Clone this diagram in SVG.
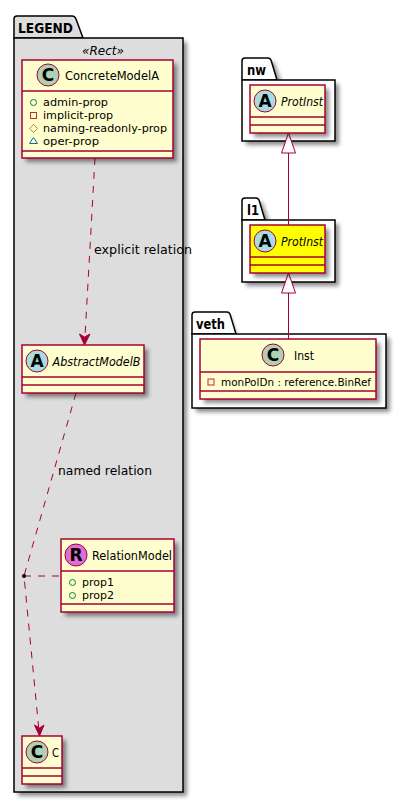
<svg xmlns="http://www.w3.org/2000/svg" width="406" height="803" viewBox="0 0 406 803">
<style>
text{font-family:"DejaVu Sans",sans-serif;fill:#000}
.pk{fill:#fff;stroke:#000;stroke-width:1.5}
.pk2{fill:#ddd;stroke:#000;stroke-width:1.5}
.pt{font-size:14px;font-weight:bold}
.box{fill:#fefece;stroke:#a80036;stroke-width:1.5}
.yl{fill:#ff0;stroke:#a80036;stroke-width:1.5}
.ln{stroke:#a80036;stroke-width:1.5;fill:none}
.cn{stroke:#a80036;stroke-width:1;fill:none}
.tri{stroke:#a80036;stroke-width:1;fill:#fff}
.ah{stroke:#a80036;stroke-width:1;fill:#a80036}
.ds{stroke-dasharray:7,7}
.n{font-size:13px}
.i{font-size:13px;font-style:italic}
.m{font-size:11px}
.l{font-size:13px}
.sp{stroke:#a80036;stroke-width:1}
.sh{fill:#000;opacity:.45;filter:url(#b)}
.g{font-size:17px;font-weight:bold;text-anchor:middle}
</style>
<defs><filter id="b" x="-20%" y="-20%" width="140%" height="140%"><feGaussianBlur stdDeviation="2"/></filter></defs>

<g id="pkg-legend">
<path class="sh" d="M18 20H74L81 42H187V796H18Z"/>
<path class="pk2" d="M14 38V19Q14 16 17 16H72Q75 16 76 19L83 38Z"/>
<rect class="pk2" x="14" y="38" width="169" height="754"/>
<text class="pt" x="18" y="33" textLength="55" lengthAdjust="spacingAndGlyphs">LEGEND</text>
<text x="82" y="55" font-size="13" font-style="italic" textLength="42" lengthAdjust="spacingAndGlyphs">«Rect»</text>
</g>

<g id="pkg-nw">
<path class="sh" d="M246 62H274L282 84H339V145H246Z"/>
<path d="M242 80V61Q242 58 245 58H268Q270 58 271 60L277 80Z" class="pk"/>
<rect class="pk" x="242" y="80" width="93" height="61"/>
<text class="pt" x="247" y="75" textLength="19" lengthAdjust="spacingAndGlyphs">nw</text>
</g>
<g id="pkg-l1">
<path class="sh" d="M246 202H262L270 224H339V286H246Z"/>
<path d="M242 220V201Q242 198 245 198H256Q258 198 259 200L265 220Z" class="pk"/>
<rect class="pk" x="242" y="220" width="93" height="62"/>
<text class="pt" x="247" y="215" textLength="12" lengthAdjust="spacingAndGlyphs">l1</text>
</g>
<g id="pkg-veth">
<path class="sh" d="M196 316H230L238 338H390V412H196Z"/>
<path d="M192 334V315Q192 312 195 312H227Q229 312 230 314L236 334Z" class="pk"/>
<rect class="pk" x="192" y="334" width="194" height="74"/>
<text class="pt" x="196" y="329" textLength="29" lengthAdjust="spacingAndGlyphs">veth</text>
</g>

<g id="connectors">
<path class="cn ds" d="M95 158L84.800 340"/>
<path class="ah" d="M84.500 345L79.500 334L84.500 337L90 334Z"/>
<text class="l" x="94" y="254" textLength="98" lengthAdjust="spacingAndGlyphs">explicit relation</text>
<path class="cn ds" d="M76 393L24 576L39 731"/>
<path class="ah" d="M39.500 736L34.500 725L39.500 728L44 725Z"/>
<text class="l" x="58" y="475" textLength="94" lengthAdjust="spacingAndGlyphs">named relation</text>
<path class="cn ds" d="M24 576H61"/>
<circle cx="24" cy="576" r="2" fill="#000"/>
<path class="cn" d="M288.500 153V225M288.500 293V339"/>
<path class="tri" d="M288.500 133L281.500 153H295.500Z"/>
<path class="tri" d="M288.500 273L281.500 293H295.500Z"/>
</g>

<g id="node-concretemodela">
<rect class="sh" x="26" y="64" width="151" height="98"/>
<rect class="box" x="22" y="60" width="151" height="98"/>
<path class="ln" d="M22 91H173M22 151H173"/>
<circle cx="48" cy="75" r="11" fill="#add1b2" class="sp"/>
<text class="g" x="48" y="81">C</text>
<text class="n" x="65" y="80" textLength="94" lengthAdjust="spacingAndGlyphs">ConcreteModelA</text>
<circle cx="33.500" cy="102.500" r="3" fill="none" stroke="#038048"/>
<rect x="30.500" y="112.500" width="6" height="6" fill="none" stroke="#c82930"/>
<path d="M33.500 124.500l4 4-4 4-4-4Z" fill="none" stroke="#b38d22"/>
<path d="M33.500 137.500l4 6h-8Z" fill="none" stroke="#1963a0"/>
<text class="m" x="43" y="106" textLength="65" lengthAdjust="spacingAndGlyphs">admin-prop</text>
<text class="m" x="43" y="119" textLength="70" lengthAdjust="spacingAndGlyphs">implicit-prop</text>
<text class="m" x="43" y="132" textLength="124" lengthAdjust="spacingAndGlyphs">naming-readonly-prop</text>
<text class="m" x="43" y="145" textLength="56" lengthAdjust="spacingAndGlyphs">oper-prop</text>
</g>

<g id="node-abstractmodelb">
<rect class="sh" x="26" y="349" width="122" height="48"/>
<rect class="box" x="22" y="345" width="122" height="48"/>
<path class="ln" d="M22 377H144M22 385H144"/>
<circle cx="37" cy="361" r="11" fill="#a9dcdf" class="sp"/>
<text class="g" x="37" y="367">A</text>
<text class="i" x="52.500" y="366" textLength="88" lengthAdjust="spacingAndGlyphs">AbstractModelB</text>
</g>

<g id="node-relationmodel">
<rect class="sh" x="65" y="543" width="113" height="73"/>
<rect class="box" x="61" y="539" width="113" height="73"/>
<path class="ln" d="M61 571H174M61 604H174"/>
<circle cx="76" cy="555" r="11" fill="#da70d6" class="sp"/>
<text class="g" x="76" y="561">R</text>
<text class="n" x="92" y="560" textLength="80" lengthAdjust="spacingAndGlyphs">RelationModel</text>
<circle cx="72.500" cy="582.500" r="3" fill="none" stroke="#038048"/>
<circle cx="72.500" cy="595.500" r="3" fill="none" stroke="#038048"/>
<text class="m" x="82" y="586" textLength="32" lengthAdjust="spacingAndGlyphs">prop1</text>
<text class="m" x="82" y="599" textLength="32" lengthAdjust="spacingAndGlyphs">prop2</text>
</g>

<g id="node-c">
<rect class="sh" x="26" y="740" width="40" height="48"/>
<rect class="box" x="22" y="736" width="40" height="48"/>
<path class="ln" d="M22 768H62M22 776H62"/>
<circle cx="37" cy="752" r="11" fill="#add1b2" class="sp"/>
<text class="g" x="37" y="758">C</text>
<text class="n" x="52" y="757" textLength="7" lengthAdjust="spacingAndGlyphs">C</text>
</g>

<g id="node-nw-protinst">
<rect class="sh" x="254" y="89" width="75" height="48"/>
<rect class="box" x="250" y="85" width="75" height="48"/>
<path class="ln" d="M250 117H325M250 125H325"/>
<circle cx="265" cy="101" r="11" fill="#a9dcdf" class="sp"/>
<text class="g" x="265" y="107">A</text>
<text class="i" x="281" y="106" textLength="42" lengthAdjust="spacingAndGlyphs">ProtInst</text>
</g>

<g id="node-l1-protinst">
<rect class="sh" x="254" y="229" width="75" height="48"/>
<rect class="yl" x="250" y="225" width="75" height="48"/>
<path class="ln" d="M250 257H325M250 265H325"/>
<circle cx="265" cy="241" r="11" fill="#a9dcdf" class="sp"/>
<text class="g" x="265" y="247">A</text>
<text class="i" x="281" y="246" textLength="42" lengthAdjust="spacingAndGlyphs">ProtInst</text>
</g>

<g id="node-veth-inst">
<rect class="sh" x="204" y="343" width="176" height="60"/>
<rect class="box" x="200" y="339" width="176" height="60"/>
<path class="ln" d="M200 372H376M200 391H376"/>
<circle cx="273" cy="355" r="11" fill="#add1b2" class="sp"/>
<text class="g" x="273" y="361">C</text>
<text class="n" x="294" y="360" textLength="20" lengthAdjust="spacingAndGlyphs">Inst</text>
<rect x="208" y="379" width="6" height="6" fill="none" stroke="#c82930"/>
<text class="m" x="221" y="386" textLength="150" lengthAdjust="spacingAndGlyphs">monPolDn : reference.BinRef</text>
</g>
</svg>
